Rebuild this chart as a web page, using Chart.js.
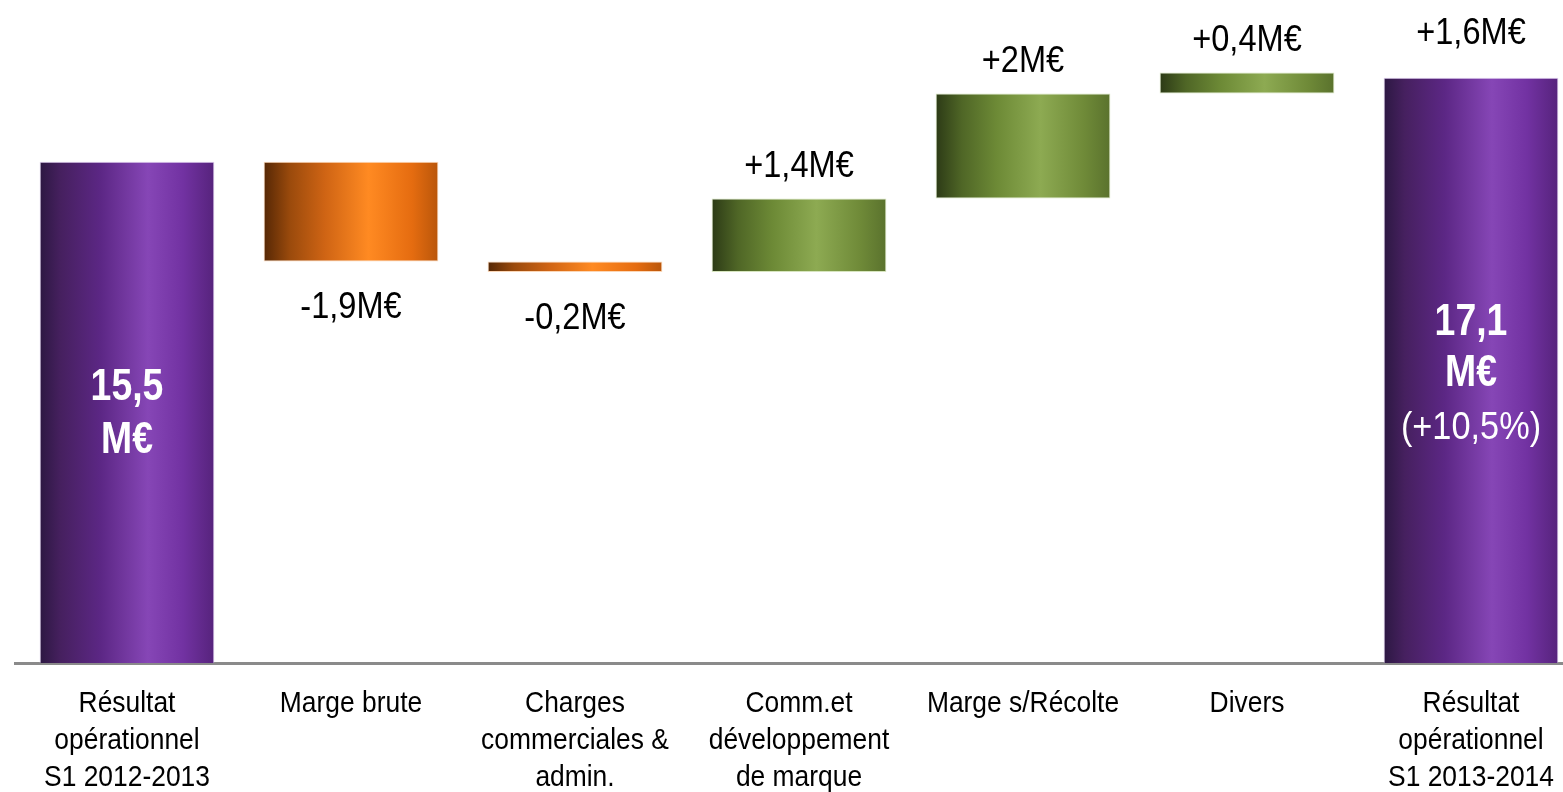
<!DOCTYPE html>
<html>
<head>
<meta charset="utf-8">
<script src="https://cdn.jsdelivr.net/npm/chart.js@4/dist/chart.umd.min.js"></script>
<style>
  html, body { margin: 0; padding: 0; background: #fff; overflow: hidden; width: 1563px; height: 792px; }
  canvas { display: block; }
</style>
</head>
<body>
<canvas id="c" width="1583" height="792"></canvas>
<script>
// Operating result bridge, H1 2012-2013 -> H1 2013-2014 (M€)
const categories = [
  ['Résultat', 'opérationnel', 'S1 2012-2013'],
  ['Marge brute'],
  ['Charges', 'commerciales &', 'admin.'],
  ['Comm.et', 'développement', 'de marque'],
  ['Marge s/Récolte'],
  ['Divers'],
  ['Résultat', 'opérationnel', 'S1 2013-2014']
];
const openingTotal = 15.5;
const changes = [-1.9, -0.2, 1.4, 2.0, 0.4];
const closingTotal = 17.1;

const changeLabels = ['-1,9M€', '-0,2M€', '+1,4M€', '+2M€', '+0,4M€'];
const openingLabel = ['15,5', 'M€'];
const closingLabel = ['17,1', 'M€'];
const closingGrowthLabel = '(+10,5%)';
const closingDeltaLabel = '+1,6M€';

const yRange = [5.95, 18.58];

const FONT = '"Liberation Sans", Arial, sans-serif';
const NARROW = 0.88;       // condensed look for regular text
const NARROW_BOLD = 0.85;  // condensed look for bold totals

// Floating bars: totals rise from zero, changes step from the running total
const ranges = [];
const kinds = [];
ranges.push([0, openingTotal]); kinds.push('total');
let running = openingTotal;
changes.forEach(d => {
  ranges.push([running, running + d]);
  kinds.push(d < 0 ? 'down' : 'up');
  running += d;
});
ranges.push([0, closingTotal]); kinds.push('total');

// Horizontal "cylinder" shading for each bar type
const shading = {
  total: [[0, '#2c1842'], [0.12, '#46205f'], [0.35, '#5c2785'], [0.62, '#8646b6'], [0.82, '#7232a2'], [1, '#56237c']],
  down:  [[0, '#552705'], [0.15, '#9a4a0c'], [0.35, '#cf6414'], [0.6, '#ff8a22'], [0.85, '#e56c10'], [1, '#b9560a']],
  up:    [[0, '#2c3a16'], [0.15, '#4f6626'], [0.35, '#6d8a36'], [0.6, '#8daa52'], [0.85, '#6f8a38'], [1, '#5a722d']]
};
const edges = { total: 'rgba(215,195,235,0.9)', down: 'rgba(250,205,165,0.8)', up: 'rgba(205,222,175,0.8)' };

function barFill(ctx) {
  const chart = ctx.chart;
  const xs = chart.scales.x;
  const kind = kinds[ctx.dataIndex];
  if (!xs || !chart.chartArea) return shading[kind][3][1];
  const slot = xs.width / categories.length;
  const w = slot * 0.78;
  const cx = xs.getPixelForValue(ctx.dataIndex);
  const g = chart.ctx.createLinearGradient(cx - w / 2, 0, cx + w / 2, 0);
  shading[kind].forEach(([o, c]) => g.addColorStop(o, c));
  return g;
}

function narrowText(ctx, text, x, y, font, color, sx) {
  ctx.save();
  ctx.font = font;
  ctx.fillStyle = color;
  ctx.textAlign = 'center';
  ctx.textBaseline = 'alphabetic';
  ctx.translate(x, y);
  ctx.scale(sx, 1);
  ctx.fillText(text, 0, 0);
  ctx.restore();
}

const labelPlugin = {
  id: 'waterfallLabels',
  afterDraw(chart) {
    const ctx = chart.ctx;
    const bars = chart.getDatasetMeta(0).data;
    const area = chart.chartArea;
    const xs = chart.scales.x;

    const boxOf = i => {
      const b = bars[i];
      return { x: b.x, top: Math.min(b.y, b.base), bottom: Math.min(Math.max(b.y, b.base), area.bottom) };
    };

    // category names under the axis
    categories.forEach((lines, i) => {
      const cx = xs.getPixelForValue(i);
      lines.forEach((t, j) => narrowText(ctx, t, cx, area.bottom + 49 + j * 37, '30px ' + FONT, '#000', NARROW));
    });

    // change labels above rising bars, below falling ones
    changes.forEach((d, k) => {
      const bx = boxOf(k + 1);
      const y = d < 0 ? bx.bottom + 57 : bx.top - 21;
      narrowText(ctx, changeLabels[k], bx.x, y, '37px ' + FONT, '#000', NARROW);
    });

    // opening total, centred in its bar
    const first = boxOf(0);
    const midA = (first.top + first.bottom) / 2;
    narrowText(ctx, openingLabel[0], first.x, midA - 12, 'bold 44px ' + FONT, '#fff', NARROW_BOLD);
    narrowText(ctx, openingLabel[1], first.x, midA + 41, 'bold 44px ' + FONT, '#fff', NARROW_BOLD);

    // closing total, growth and delta
    const last = boxOf(categories.length - 1);
    const midB = (last.top + last.bottom) / 2;
    narrowText(ctx, closingLabel[0], last.x, midB - 35, 'bold 44px ' + FONT, '#fff', NARROW_BOLD);
    narrowText(ctx, closingLabel[1], last.x, midB + 16, 'bold 44px ' + FONT, '#fff', NARROW_BOLD);
    narrowText(ctx, closingGrowthLabel, last.x, midB + 69, '39px ' + FONT, '#fff', NARROW);
    narrowText(ctx, closingDeltaLabel, last.x, last.top - 34, '37px ' + FONT, '#000', NARROW);
  }
};

new Chart(document.getElementById('c'), {
  type: 'bar',
  data: {
    labels: categories,
    datasets: [{
      data: ranges,
      backgroundColor: barFill,
      borderColor: ctx => edges[kinds[ctx.dataIndex]],
      borderWidth: 1,
      borderSkipped: false,
      barPercentage: 0.78,
      categoryPercentage: 1
    }]
  },
  options: {
    responsive: false,
    animation: false,
    layout: { padding: { left: 15, right: 0, top: 0, bottom: 0 } },
    plugins: { legend: { display: false }, tooltip: { enabled: false } },
    scales: {
      x: {
        grid: { display: false, drawTicks: false },
        border: { display: true, color: '#8a8a8a', width: 3 },
        ticks: { display: false },
        afterFit: s => { s.height = 129; }
      },
      y: { display: false, min: yRange[0], max: yRange[1] }
    }
  },
  plugins: [labelPlugin]
});
</script>
</body>
</html>
